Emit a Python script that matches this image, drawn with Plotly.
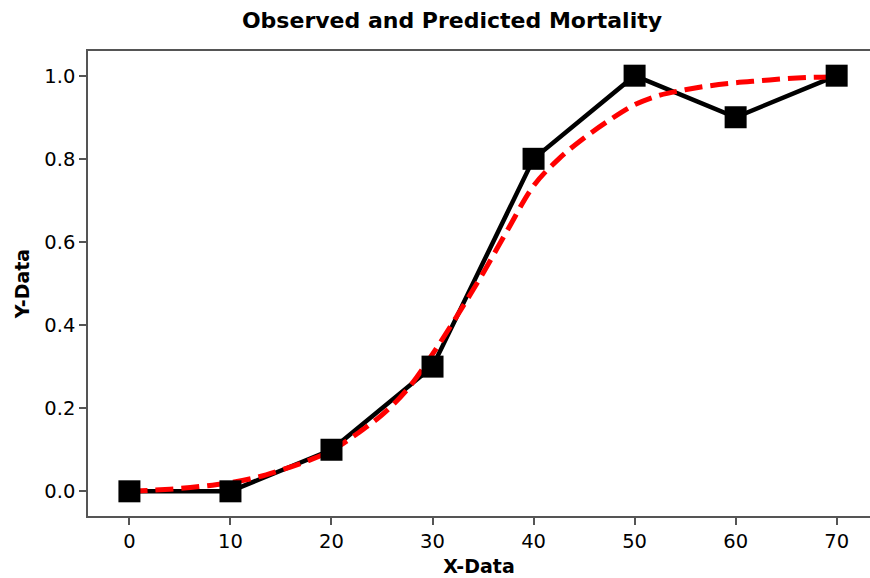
import plotly.graph_objects as go

# Observed data
x_obs = [0, 10, 20, 30, 40, 50, 60, 70]
y_obs = [0.0, 0.0, 0.1, 0.3, 0.8, 1.0, 0.9, 1.0]

# Predicted (fitted) curve
x_pred = [0, 2.5, 5, 7.5, 10, 12.5, 15, 17.5, 20, 22.5, 25, 27.5, 30, 32.5, 35,
          37.5, 40, 42.5, 45, 47.5, 50, 52.5, 55, 57.5, 60, 62.5, 65, 67.5, 70]
y_pred = [0.000, 0.003, 0.007, 0.013, 0.021, 0.033, 0.051, 0.072, 0.098, 0.138,
          0.184, 0.245, 0.330, 0.425, 0.525, 0.632, 0.735, 0.800, 0.850, 0.893,
          0.930, 0.953, 0.966, 0.976, 0.983, 0.988, 0.993, 0.996, 0.997]

x_ticks = [0, 10, 20, 30, 40, 50, 60, 70]
y_ticks = [0.0, 0.2, 0.4, 0.6, 0.8, 1.0]
y_ticklabels = ["0.0", "0.2", "0.4", "0.6", "0.8", "1.0"]

fig = go.Figure()
fig.add_trace(go.Scatter(x=x_obs, y=y_obs, mode="lines",
                         line=dict(color="black", width=4.5),
                         showlegend=False, hoverinfo="skip"))
fig.add_trace(go.Scatter(x=x_pred, y=y_pred, mode="lines",
                         line=dict(color="red", width=5, dash="18px,8px", shape="spline"),
                         showlegend=False))
fig.add_trace(go.Scatter(x=x_obs, y=y_obs, mode="markers",
                         marker=dict(symbol="square", size=22, color="black"),
                         showlegend=False))

fig.update_layout(
    width=870, height=578,
    margin=dict(l=88, r=0, t=51, b=62, autoexpand=False),
    paper_bgcolor="white", plot_bgcolor="white",
    font=dict(family="DejaVu Sans", size=19.5, color="black"),
    title=dict(text="<b>Observed and Predicted Mortality</b>",
               x=452/870, xanchor="center", xref="container",
               y=1 - 20/578, yanchor="middle", yref="container",
               font=dict(family="DejaVu Sans", size=22, color="black")),
)
fig.update_xaxes(range=[-4.1, 73.3], tickvals=x_ticks, ticks="outside", ticklen=7,
                 tickcolor="#555", tickwidth=1.5, showline=True, linecolor="#555",
                 linewidth=1.5, mirror=True, showgrid=False, zeroline=False,
                 title=dict(text="<b>X-Data</b>", standoff=8,
                            font=dict(family="DejaVu Sans", size=19)))
fig.update_yaxes(range=[-0.0594, 1.0594], tickvals=y_ticks, ticktext=y_ticklabels,
                 ticks="outside", ticklen=7, tickcolor="#555", tickwidth=1.5,
                 showline=True, linecolor="#555", linewidth=1.5, mirror=False,
                 showgrid=False, zeroline=False,
                 title=dict(text="<b>Y-Data</b>", standoff=10,
                            font=dict(family="DejaVu Sans", size=19)))

fig.write_html("out.html", config={"displayModeBar": False},
               post_script="document.body.style.margin='0';document.body.style.overflow='hidden';")
